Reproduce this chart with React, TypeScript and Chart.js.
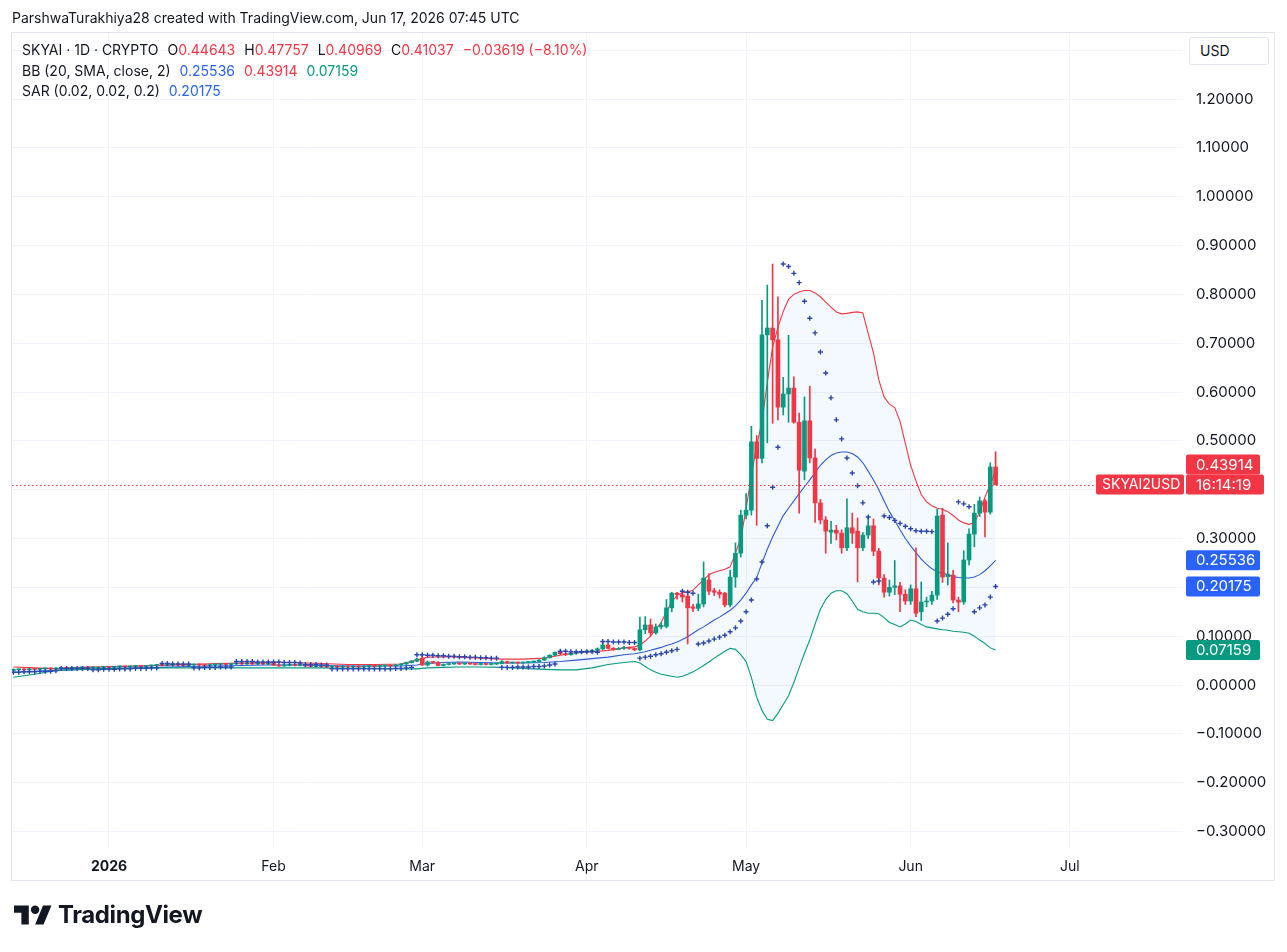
import React, { useEffect, useRef } from "react";
import { Chart, registerables } from "chart.js";

Chart.register(...registerables);

const FONT = "Inter, 'Liberation Sans', sans-serif";
const RED = "#F23645";
const GREEN = "#089981";
const BLUE = "#2962FF";
const BASIS_COLOR = "#2f5bd6";
const SAR_COLOR = "#2b46b0";
const TEXT = "#131722";

// day 0 = 1 Jan 2026; first candle = 14 Dec 2025
const FIRST_DAY = -18;

const opens = [
  0.030, 0.031, 0.032, 0.031, 0.033, 0.032, 0.033, 0.034, 0.033, 0.034,
  0.035, 0.034, 0.035, 0.035, 0.036, 0.035, 0.036, 0.036, 0.037, 0.036,
  0.037, 0.038, 0.037, 0.038, 0.039, 0.038, 0.039, 0.040, 0.041, 0.040,
  0.041, 0.042, 0.041, 0.040, 0.041, 0.042, 0.041, 0.040, 0.041, 0.042,
  0.043, 0.042, 0.043, 0.044, 0.043, 0.044, 0.043, 0.044, 0.043, 0.044,
  0.041, 0.039, 0.040, 0.041, 0.040, 0.041, 0.039, 0.038, 0.039, 0.038,
  0.037, 0.038, 0.037, 0.038, 0.037, 0.038, 0.037, 0.038, 0.039, 0.038,
  0.039, 0.040, 0.039, 0.041, 0.043, 0.046, 0.049, 0.055, 0.041, 0.047,
  0.046, 0.040, 0.042, 0.043, 0.044, 0.043, 0.044, 0.043, 0.042, 0.043,
  0.042, 0.043, 0.044, 0.048, 0.045, 0.046, 0.045, 0.046, 0.047, 0.048,
  0.051, 0.056, 0.061, 0.067, 0.064, 0.062, 0.065, 0.067, 0.068, 0.069,
  0.071, 0.074, 0.082, 0.075, 0.073, 0.075, 0.077, 0.075, 0.072, 0.113,
  0.123, 0.107, 0.119, 0.120, 0.158, 0.188, 0.185, 0.182, 0.160, 0.157,
  0.166, 0.215, 0.193, 0.190, 0.188, 0.164, 0.221, 0.270, 0.348, 0.358,
  0.498, 0.464, 0.717, 0.731, 0.707, 0.569, 0.596, 0.608, 0.538, 0.438,
  0.541, 0.465, 0.373, 0.338, 0.313, 0.317, 0.311, 0.281, 0.322, 0.315,
  0.281, 0.307, 0.326, 0.274, 0.219, 0.190, 0.200, 0.203, 0.186, 0.172,
  0.197, 0.150, 0.170, 0.172, 0.184, 0.348, 0.222, 0.225, 0.174, 0.170,
  0.256, 0.309, 0.352, 0.377, 0.354, 0.44643,
];

const highs = [
  0.033, 0.033, 0.033, 0.034, 0.034, 0.034, 0.035, 0.035, 0.035, 0.036,
  0.036, 0.036, 0.036, 0.037, 0.037, 0.037, 0.037, 0.038, 0.038, 0.038,
  0.039, 0.039, 0.039, 0.040, 0.040, 0.040, 0.041, 0.042, 0.042, 0.042,
  0.043, 0.043, 0.042, 0.042, 0.043, 0.043, 0.042, 0.042, 0.043, 0.044,
  0.044, 0.044, 0.045, 0.045, 0.045, 0.045, 0.045, 0.045, 0.045, 0.045,
  0.042, 0.041, 0.042, 0.042, 0.042, 0.042, 0.040, 0.040, 0.040, 0.039,
  0.039, 0.039, 0.039, 0.039, 0.039, 0.039, 0.039, 0.040, 0.040, 0.040,
  0.041, 0.041, 0.042, 0.044, 0.047, 0.050, 0.055, 0.060, 0.049, 0.048,
  0.048, 0.043, 0.044, 0.045, 0.045, 0.045, 0.045, 0.044, 0.044, 0.044,
  0.044, 0.045, 0.050, 0.049, 0.047, 0.047, 0.047, 0.048, 0.049, 0.052,
  0.058, 0.062, 0.068, 0.068, 0.066, 0.067, 0.068, 0.069, 0.070, 0.072,
  0.076, 0.089, 0.084, 0.077, 0.077, 0.079, 0.078, 0.076, 0.139, 0.140,
  0.135, 0.125, 0.128, 0.175, 0.190, 0.190, 0.190, 0.192, 0.165, 0.186,
  0.252, 0.228, 0.198, 0.195, 0.190, 0.235, 0.291, 0.358, 0.392, 0.530,
  0.511, 0.788, 0.819, 0.862, 0.795, 0.630, 0.716, 0.631, 0.557, 0.590,
  0.612, 0.483, 0.380, 0.345, 0.335, 0.327, 0.318, 0.381, 0.352, 0.342,
  0.312, 0.346, 0.340, 0.280, 0.226, 0.215, 0.255, 0.210, 0.195, 0.205,
  0.281, 0.211, 0.180, 0.192, 0.360, 0.362, 0.291, 0.235, 0.180, 0.275,
  0.320, 0.370, 0.385, 0.380, 0.455, 0.47757,
];

const lows = [
  0.029, 0.030, 0.030, 0.030, 0.031, 0.031, 0.032, 0.032, 0.032, 0.033,
  0.033, 0.033, 0.034, 0.034, 0.034, 0.034, 0.035, 0.035, 0.035, 0.035,
  0.036, 0.036, 0.036, 0.037, 0.037, 0.037, 0.038, 0.039, 0.039, 0.039,
  0.040, 0.040, 0.039, 0.039, 0.040, 0.040, 0.039, 0.039, 0.040, 0.041,
  0.041, 0.041, 0.042, 0.042, 0.042, 0.042, 0.042, 0.042, 0.042, 0.040,
  0.038, 0.038, 0.039, 0.039, 0.039, 0.038, 0.037, 0.037, 0.037, 0.036,
  0.036, 0.036, 0.036, 0.036, 0.036, 0.036, 0.036, 0.037, 0.037, 0.037,
  0.038, 0.038, 0.038, 0.040, 0.042, 0.045, 0.048, 0.040, 0.039, 0.044,
  0.039, 0.039, 0.041, 0.042, 0.042, 0.042, 0.042, 0.041, 0.041, 0.041,
  0.041, 0.042, 0.043, 0.044, 0.044, 0.044, 0.044, 0.045, 0.046, 0.047,
  0.050, 0.055, 0.060, 0.062, 0.060, 0.061, 0.063, 0.065, 0.066, 0.067,
  0.069, 0.072, 0.074, 0.071, 0.072, 0.073, 0.073, 0.070, 0.070, 0.105,
  0.100, 0.104, 0.115, 0.117, 0.150, 0.176, 0.170, 0.084, 0.150, 0.152,
  0.160, 0.185, 0.183, 0.178, 0.160, 0.160, 0.200, 0.262, 0.340, 0.348,
  0.327, 0.455, 0.496, 0.536, 0.543, 0.553, 0.538, 0.536, 0.352, 0.420,
  0.455, 0.333, 0.330, 0.270, 0.290, 0.297, 0.270, 0.275, 0.290, 0.211,
  0.275, 0.300, 0.265, 0.205, 0.180, 0.182, 0.185, 0.150, 0.165, 0.165,
  0.140, 0.132, 0.160, 0.165, 0.175, 0.210, 0.205, 0.168, 0.150, 0.165,
  0.246, 0.283, 0.345, 0.303, 0.350, 0.40969,
];

const closes = [
  0.031, 0.032, 0.031, 0.033, 0.032, 0.033, 0.034, 0.033, 0.034, 0.035,
  0.034, 0.035, 0.035, 0.036, 0.035, 0.036, 0.036, 0.037, 0.036, 0.037,
  0.038, 0.037, 0.038, 0.039, 0.038, 0.039, 0.040, 0.041, 0.040, 0.041,
  0.042, 0.041, 0.040, 0.041, 0.042, 0.041, 0.040, 0.041, 0.042, 0.043,
  0.042, 0.043, 0.044, 0.043, 0.044, 0.043, 0.044, 0.043, 0.044, 0.041,
  0.039, 0.040, 0.041, 0.040, 0.041, 0.039, 0.038, 0.039, 0.038, 0.037,
  0.038, 0.037, 0.038, 0.037, 0.038, 0.037, 0.038, 0.039, 0.038, 0.039,
  0.040, 0.039, 0.041, 0.043, 0.046, 0.049, 0.053, 0.041, 0.047, 0.046,
  0.040, 0.042, 0.043, 0.044, 0.043, 0.044, 0.043, 0.042, 0.043, 0.042,
  0.043, 0.044, 0.048, 0.045, 0.046, 0.045, 0.046, 0.047, 0.048, 0.051,
  0.056, 0.061, 0.067, 0.064, 0.062, 0.065, 0.067, 0.068, 0.069, 0.071,
  0.074, 0.082, 0.075, 0.073, 0.075, 0.077, 0.075, 0.072, 0.113, 0.123,
  0.107, 0.119, 0.122, 0.158, 0.188, 0.185, 0.180, 0.158, 0.157, 0.166,
  0.219, 0.192, 0.190, 0.186, 0.164, 0.221, 0.270, 0.348, 0.358, 0.498,
  0.464, 0.717, 0.731, 0.707, 0.569, 0.596, 0.608, 0.538, 0.440, 0.541,
  0.465, 0.373, 0.338, 0.315, 0.317, 0.311, 0.281, 0.322, 0.311, 0.281,
  0.307, 0.326, 0.274, 0.219, 0.190, 0.200, 0.203, 0.186, 0.172, 0.197,
  0.147, 0.170, 0.172, 0.184, 0.346, 0.221, 0.226, 0.174, 0.170, 0.256,
  0.309, 0.352, 0.377, 0.354, 0.44656, 0.41037,
];

const sarValues = [
  0.026, 0.026, 0.027, 0.027, 0.027, 0.028, 0.028, 0.028, 0.029,
  0.034, 0.034, 0.034, 0.034, 0.034, 0.034,
  0.031, 0.031, 0.032, 0.032, 0.032, 0.033, 0.033, 0.033, 0.034, 0.034, 0.034, 0.035, 0.035,
  0.044, 0.044, 0.043, 0.043, 0.043, 0.043,
  0.035, 0.035, 0.036, 0.036, 0.036, 0.037, 0.037, 0.037,
  0.048, 0.048, 0.048, 0.048, 0.047, 0.047, 0.047, 0.047, 0.047, 0.046, 0.046, 0.046, 0.045,
  0.042, 0.042, 0.042, 0.041, 0.041,
  0.033, 0.033, 0.033, 0.033, 0.033, 0.033, 0.033, 0.033, 0.033, 0.033, 0.033, 0.033, 0.034, 0.034, 0.035, 0.036,
  0.062, 0.062, 0.061, 0.061, 0.060, 0.060, 0.059, 0.059, 0.058, 0.058, 0.057, 0.057, 0.056, 0.056, 0.055, 0.055,
  0.036, 0.036, 0.036, 0.037, 0.037, 0.037, 0.038, 0.038, 0.039, 0.041, 0.043,
  0.069, 0.069, 0.068, 0.068, 0.068, 0.068, 0.068, 0.067,
  0.089, 0.089, 0.088, 0.088, 0.088, 0.087, 0.087,
  0.055, 0.057, 0.059, 0.062, 0.064, 0.067, 0.070, 0.073,
  0.192, 0.190, 0.188,
  0.084, 0.086, 0.090, 0.094, 0.098, 0.102, 0.109, 0.117, 0.131, 0.150, 0.174, 0.217, 0.252, 0.326, 0.405, 0.487,
  0.862, 0.857, 0.843, 0.824, 0.786, 0.751, 0.721, 0.682, 0.639, 0.588, 0.543, 0.504, 0.465, 0.434, 0.408, 0.373, 0.344,
  0.211, 0.213,
  0.346, 0.343, 0.337, 0.331, 0.325, 0.320, 0.316, 0.315, 0.315, 0.314,
  0.131, 0.137, 0.145, 0.156,
  0.375, 0.371, 0.365,
  0.150, 0.158, 0.164, 0.180, 0.20175,
];

const bbDays = [
  -18, -14, -10, -5, 0, 5, 10, 15, 20, 25, 30, 35, 40, 45, 50, 55, 58, 60, 63, 66, 70, 74, 78, 82, 85, 88, 91, 94, 97,
  99, 100, 101, 102, 103, 104, 105, 106, 107, 108,
  109, 110, 111, 112, 113, 114, 115, 116, 117, 118,
  119, 120, 121, 122, 123, 124, 125, 126, 127, 128,
  129, 130, 131, 132, 133, 134, 135, 136, 137, 138,
  139, 140, 141, 142, 143, 144, 145, 146, 147, 148,
  149, 150, 151, 152, 153, 154, 155, 156, 157, 158,
  159, 160, 161, 162, 163, 164, 165, 166, 167,
];

const bbUpper = [
  0.037, 0.035, 0.033, 0.036, 0.038, 0.039, 0.040, 0.042, 0.044, 0.045, 0.046, 0.046, 0.044, 0.042, 0.042, 0.043, 0.051, 0.057, 0.058, 0.057, 0.055, 0.053, 0.053, 0.055, 0.061, 0.066, 0.068, 0.071, 0.076,
  0.078, 0.082, 0.090, 0.100, 0.114, 0.128, 0.150, 0.170, 0.184, 0.189,
  0.191, 0.194, 0.205, 0.215, 0.226, 0.231, 0.234, 0.237, 0.242, 0.270,
  0.300, 0.360, 0.430, 0.490, 0.540, 0.620, 0.692, 0.733, 0.765, 0.790,
  0.800, 0.805, 0.808, 0.808, 0.803, 0.795, 0.784, 0.774, 0.764, 0.760,
  0.761, 0.763, 0.764, 0.762, 0.720, 0.680, 0.625, 0.590, 0.575, 0.568,
  0.540, 0.495, 0.450, 0.418, 0.390, 0.375, 0.367, 0.362, 0.360, 0.355,
  0.347, 0.338, 0.332, 0.329, 0.332, 0.355, 0.385, 0.410, 0.43914,
];

const bbBasis = [
  0.026, 0.028, 0.030, 0.032, 0.034, 0.035, 0.036, 0.038, 0.039, 0.040, 0.041, 0.041, 0.040, 0.039, 0.039, 0.039, 0.041, 0.044, 0.046, 0.047, 0.046, 0.045, 0.045, 0.046, 0.048, 0.051, 0.054, 0.057, 0.062,
  0.064, 0.066, 0.068, 0.071, 0.074, 0.077, 0.081, 0.084, 0.088, 0.093,
  0.099, 0.106, 0.113, 0.119, 0.126, 0.133, 0.139, 0.146, 0.153, 0.162,
  0.174, 0.188, 0.205, 0.220, 0.250, 0.278, 0.303, 0.325, 0.347, 0.362,
  0.377, 0.392, 0.406, 0.420, 0.435, 0.450, 0.461, 0.470, 0.475, 0.477,
  0.477, 0.474, 0.467, 0.455, 0.438, 0.420, 0.400, 0.377, 0.355, 0.337,
  0.318, 0.300, 0.285, 0.271, 0.258, 0.247, 0.238, 0.232, 0.229, 0.226,
  0.222, 0.220, 0.219, 0.219, 0.221, 0.226, 0.234, 0.244, 0.25536,
];

const bbLower = [
  0.016, 0.022, 0.030, 0.032, 0.033, 0.034, 0.035, 0.035, 0.035, 0.035, 0.035, 0.035, 0.035, 0.034, 0.034, 0.033, 0.033, 0.035, 0.036, 0.037, 0.037, 0.036, 0.034, 0.032, 0.031, 0.031, 0.035, 0.042, 0.046,
  0.048, 0.045, 0.038, 0.031, 0.026, 0.022, 0.020, 0.018, 0.016, 0.018,
  0.022, 0.027, 0.033, 0.040, 0.047, 0.055, 0.062, 0.069, 0.075, 0.073,
  0.062, 0.048, 0.015, -0.025, -0.052, -0.070, -0.073, -0.058, -0.040, -0.022,
  0.005, 0.035, 0.065, 0.092, 0.125, 0.155, 0.175, 0.188, 0.193, 0.193,
  0.187, 0.172, 0.155, 0.150, 0.147, 0.147, 0.146, 0.138, 0.128, 0.124,
  0.119, 0.125, 0.133, 0.130, 0.124, 0.119, 0.117, 0.115, 0.113, 0.112,
  0.110, 0.109, 0.108, 0.106, 0.100, 0.092, 0.085, 0.076, 0.07159,
];

const monthTicks = [0, 31, 59, 90, 120, 151, 181];
const monthLabels = ["2026", "Feb", "Mar", "Apr", "May", "Jun", "Jul"];
const priceTicks = [-0.3, -0.2, -0.1, 0, 0.1, 0.2, 0.3, 0.4, 0.5, 0.6, 0.7, 0.8, 0.9, 1.0, 1.1, 1.2, 1.3];

const SYMBOL_TAG = "SKYAI2USD";
const COUNTDOWN = "16:14:19";

function fmt(v: number): string {
  const s = Math.abs(v).toFixed(5);
  return (v < -1e-9 ? "\u2212" : "") + s;
}

const last = closes.length - 1;
const lastClose = closes[last];
const change = lastClose - closes[last - 1];
const changePct = (change / closes[last - 1]) * 100;

const priceLabelPlugin = {
  id: "priceLabels",
  afterDraw(chart: any) {
    const { ctx, chartArea } = chart;
    const y = chart.scales.y;
    const h = 20;
    const x0 = chartArea.right + 3;
    const tx = chartArea.right + 13;
    const closeY = y.getPixelForValue(lastClose);
    const tagLeft = chartArea.right - 87;

    ctx.save();
    ctx.strokeStyle = RED;
    ctx.lineWidth = 1;
    ctx.setLineDash([1.5, 2.5]);
    ctx.beginPath();
    const ly = Math.round(closeY) + 0.5;
    ctx.moveTo(chartArea.left, ly);
    ctx.lineTo(tagLeft, ly);
    ctx.stroke();
    ctx.setLineDash([]);

    const box = (a: number, b: number, yc: number, color: string, text: string, textX: number, size: number) => {
      ctx.fillStyle = color;
      ctx.beginPath();
      if (ctx.roundRect) ctx.roundRect(a, yc - h / 2, b - a, h, 2);
      else ctx.rect(a, yc - h / 2, b - a, h);
      ctx.fill();
      ctx.fillStyle = "#ffffff";
      ctx.font = `${size}px ${FONT}`;
      ctx.textAlign = "left";
      ctx.textBaseline = "middle";
      ctx.fillText(text, textX, yc + 0.5);
    };

    const basisV = bbBasis[bbBasis.length - 1];
    const sarV = sarValues[sarValues.length - 1];
    const lowerV = bbLower[bbLower.length - 1];
    const upperV = bbUpper[bbUpper.length - 1];

    box(x0, x0 + 74, y.getPixelForValue(basisV), BLUE, fmt(basisV), tx, 15);
    box(x0, x0 + 74, y.getPixelForValue(sarV), BLUE, fmt(sarV), tx, 15);
    box(x0, x0 + 74, y.getPixelForValue(lowerV), GREEN, fmt(lowerV), tx, 15);
    const upY = Math.min(y.getPixelForValue(upperV), closeY - h);
    box(x0, x0 + 74, upY, RED, fmt(upperV), tx, 15);
    box(x0, x0 + 78, closeY, RED, COUNTDOWN, tx, 15);
    box(tagLeft, chartArea.right + 1, closeY, RED, SYMBOL_TAG, tagLeft + 6, 14);
    ctx.restore();
  },
};

function ChartCanvas() {
  const ref = useRef<HTMLCanvasElement | null>(null);
  useEffect(() => {
    if (!ref.current) return;
    const candleDays = opens.map((_, i) => FIRST_DAY + i);
    const colors = opens.map((o, i) => (closes[i] >= o ? GREEN : RED));
    const chart = new Chart(ref.current, {
      type: "bar",
      data: {
        datasets: [
          {
            type: "line",
            label: "BB upper",
            data: bbDays.map((d, i) => ({ x: d, y: bbUpper[i] })),
            borderColor: RED,
            borderWidth: 1.1,
            pointRadius: 0,
            fill: 2,
            backgroundColor: "rgba(33,150,243,0.055)",
            order: 10,
          },
          {
            type: "line",
            label: "BB basis",
            data: bbDays.map((d, i) => ({ x: d, y: bbBasis[i] })),
            borderColor: BASIS_COLOR,
            borderWidth: 1.1,
            pointRadius: 0,
            fill: false,
            order: 9,
          },
          {
            type: "line",
            label: "BB lower",
            data: bbDays.map((d, i) => ({ x: d, y: bbLower[i] })),
            borderColor: GREEN,
            borderWidth: 1.1,
            pointRadius: 0,
            fill: false,
            order: 8,
          },
          {
            type: "bar",
            label: "wick",
            data: candleDays.map((d, i) => ({ x: d, y: [lows[i], highs[i]] })),
            backgroundColor: colors,
            barThickness: 1,
            grouped: false,
            minBarLength: 1,
            order: 3,
          },
          {
            type: "bar",
            label: "body",
            data: candleDays.map((d, i) => ({ x: d, y: [opens[i], closes[i]] })),
            backgroundColor: colors,
            barThickness: 4,
            grouped: false,
            minBarLength: 1,
            order: 2,
          },
          {
            type: "line",
            label: "SAR",
            data: candleDays.map((d, i) => ({ x: d, y: sarValues[i] })),
            showLine: false,
            pointStyle: "cross",
            pointRadius: 2.5,
            pointBorderWidth: 1.4,
            pointBorderColor: SAR_COLOR,
            borderColor: SAR_COLOR,
            fill: false,
            order: 1,
          },
        ],
      } as any,
      options: {
        responsive: false,
        animation: false,
        events: [],
        layout: { padding: { left: 12, top: 33, right: 12, bottom: 72 } },
        plugins: {
          legend: { display: false },
          tooltip: { enabled: false },
          filler: { drawTime: "beforeDatasetsDraw" },
        } as any,
        scales: {
          x: {
            type: "linear",
            min: -18.27,
            max: 202.3,
            offset: false,
            afterBuildTicks: (s: any) => {
              s.ticks = monthTicks.map((v) => ({ value: v }));
            },
            afterFit: (s: any) => {
              s.height = 32;
            },
            ticks: {
              autoSkip: false,
              maxRotation: 0,
              padding: 10,
              color: TEXT,
              font: (c: any) => ({
                family: FONT,
                size: 14,
                weight: c.tick && c.tick.value === 0 ? "bold" : "normal",
              }),
              callback: (v: any) => {
                const k = monthTicks.indexOf(Number(v));
                return k >= 0 ? monthLabels[k] : "";
              },
            },
            grid: { color: "#f0f3fa", drawTicks: false, offset: false },
            border: { display: false },
          },
          y: {
            type: "linear",
            position: "right",
            min: -0.3338,
            max: 1.3352,
            afterBuildTicks: (s: any) => {
              s.ticks = priceTicks.map((v) => ({ value: v }));
            },
            afterFit: (s: any) => {
              s.width = 92;
            },
            ticks: {
              autoSkip: false,
              padding: 13,
              color: TEXT,
              font: { family: FONT, size: 15 },
              callback: (v: any) => (Number(v) > 1.25 ? "" : fmt(Number(v))),
            },
            grid: { color: "#f0f3fa", drawTicks: false },
            border: { display: false },
          },
        },
      } as any,
      plugins: [priceLabelPlugin],
    });
    return () => chart.destroy();
  }, []);
  return (
    <canvas
      ref={ref}
      width={1287}
      height={952}
      style={{ position: "absolute", left: 0, top: 0, width: 1287, height: 952 }}
    />
  );
}

const gap = { marginLeft: 9 };

export default function App() {
  const o = opens[last];
  const hi = highs[last];
  const lo = lows[last];
  const chColor = change < 0 ? RED : GREEN;
  return (
    <div
      style={{
        position: "absolute",
        left: 0,
        top: 0,
        width: 1287,
        height: 952,
        background: "#ffffff",
        fontFamily: FONT,
        color: TEXT,
        overflow: "hidden",
      }}
    >
      <ChartCanvas />
      <div
        style={{
          position: "absolute",
          left: 11,
          top: 32,
          width: 1262,
          height: 847,
          border: "1px solid #e0e3eb",
          pointerEvents: "none",
        }}
      />
      <div style={{ position: "absolute", left: 12, top: 8, fontSize: 14, lineHeight: "20px", whiteSpace: "nowrap" }}>
        ParshwaTurakhiya28 created with TradingView.com, Jun 17, 2026 07:45 UTC
      </div>
      <div style={{ position: "absolute", left: 22, top: 40, fontSize: 14, lineHeight: "20.5px", whiteSpace: "nowrap" }}>
        <div>
          <span>SKYAI · 1D · CRYPTO</span>
          <span style={gap}>
            O<span style={{ color: chColor }}>{fmt(o)}</span>
          </span>
          <span style={gap}>
            H<span style={{ color: chColor }}>{fmt(hi)}</span>
          </span>
          <span style={gap}>
            L<span style={{ color: chColor }}>{fmt(lo)}</span>
          </span>
          <span style={gap}>
            C<span style={{ color: chColor }}>{fmt(lastClose)}</span>
          </span>
          <span style={{ ...gap, color: chColor }}>
            {fmt(change)} ({change < 0 ? "\u2212" : "+"}
            {Math.abs(changePct).toFixed(2)}%)
          </span>
        </div>
        <div>
          <span>BB (20, SMA, close, 2)</span>
          <span style={{ ...gap, color: BLUE }}>{fmt(bbBasis[bbBasis.length - 1])}</span>
          <span style={{ ...gap, color: RED }}>{fmt(bbUpper[bbUpper.length - 1])}</span>
          <span style={{ ...gap, color: GREEN }}>{fmt(bbLower[bbLower.length - 1])}</span>
        </div>
        <div>
          <span>SAR (0.02, 0.02, 0.2)</span>
          <span style={{ ...gap, color: BLUE }}>{fmt(sarValues[sarValues.length - 1])}</span>
        </div>
      </div>
      <div
        style={{
          position: "absolute",
          left: 1189,
          top: 37,
          width: 80,
          height: 28,
          border: "1px solid #e0e3eb",
          borderRadius: 3,
          background: "#ffffff",
          boxSizing: "border-box",
          fontSize: 14,
          lineHeight: "26px",
          paddingLeft: 10,
        }}
      >
        USD
      </div>
      <svg
        style={{ position: "absolute", left: 14, top: 901 }}
        width={38}
        height={30}
        viewBox="0 0 36 28"
      >
        <path d="M14 22H7V11H0V4h14v18z" fill="#131722" />
        <circle cx="20" cy="8" r="4" fill="#131722" />
        <path d="M28 22h-8l7.5-18h8L28 22z" fill="#131722" />
      </svg>
      <div
        style={{
          position: "absolute",
          left: 58,
          top: 902,
          fontSize: 24,
          fontWeight: 700,
          lineHeight: "26px",
          letterSpacing: -0.4,
          whiteSpace: "nowrap",
        }}
      >
        TradingView
      </div>
    </div>
  );
}
